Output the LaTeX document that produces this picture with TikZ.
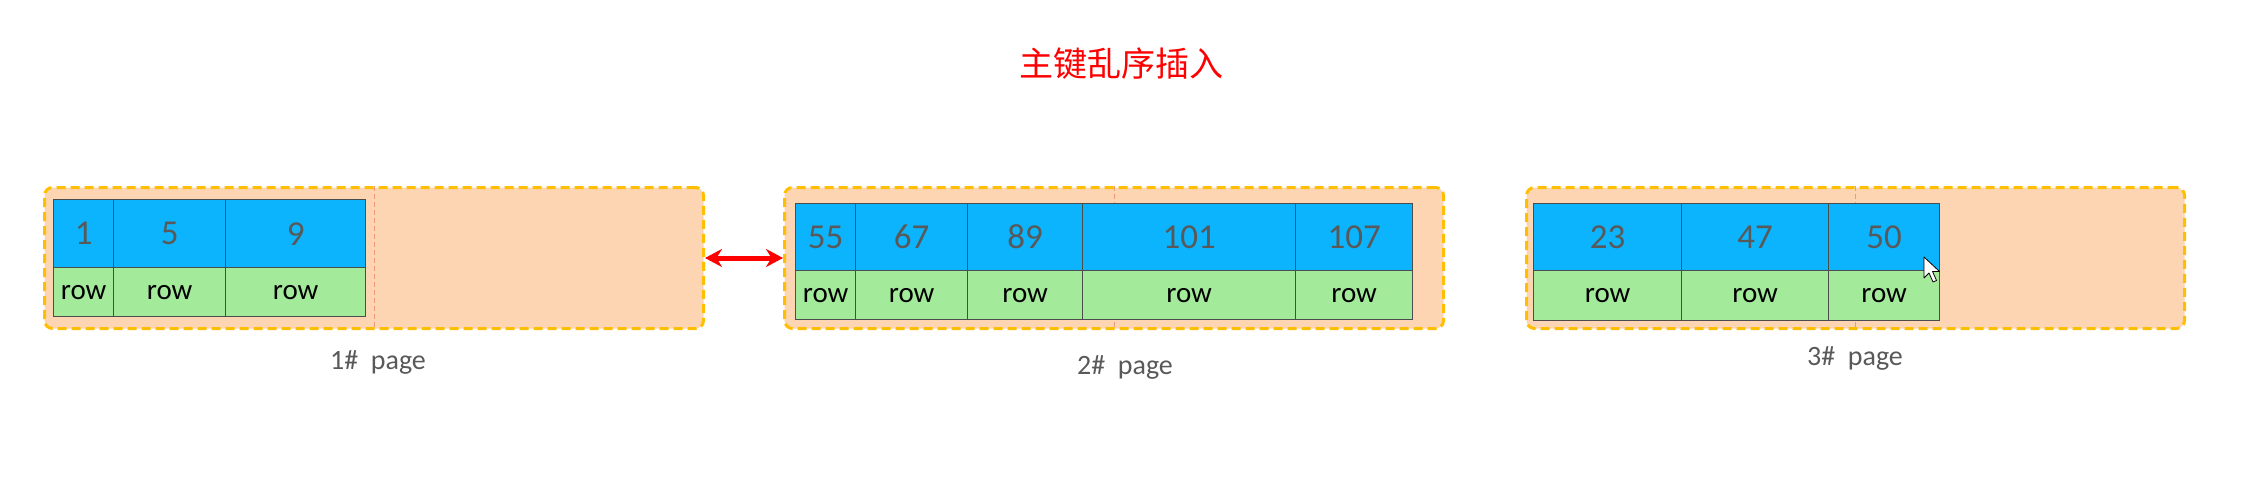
\documentclass[tikz,border=0pt]{standalone}
\usepackage{fontspec}
\setmainfont{Carlito}
\newfontfamily\cjk{Noto Sans CJK SC}
\usetikzlibrary{arrows.meta}

\definecolor{keyblue}{HTML}{0BB4FD}
\definecolor{rowgreen}{HTML}{A3EA9B}
\definecolor{pagefill}{HTML}{FDD5B2}
\definecolor{pageline}{HTML}{FFBF00}
\definecolor{midline}{HTML}{EE9A78}
\definecolor{numgray}{HTML}{595959}

\begin{document}
\begin{tikzpicture}[x=1pt,y=-1pt,
  pagebox/.style={draw=pageline,fill=pagefill,line width=3pt,dash pattern=on 9pt off 5pt,rounded corners=8pt,anchor=north west,inner sep=0pt},
  keycell/.style={draw=black!70,fill=keyblue,line width=1.3pt,anchor=north west,inner sep=0pt,text=numgray,font=\fontsize{35}{40}\selectfont},
  rowcell/.style={draw=black!70,fill=rowgreen,line width=1.3pt,anchor=north west,inner sep=0pt,text=black,font=\fontsize{29}{34}\selectfont},
  pagelabel/.style={text=numgray,font=\fontsize{28}{32}\selectfont},
  centerline/.style={draw=midline,line width=1pt,dash pattern=on 5pt off 3pt}]
  \useasboundingbox (0,0) rectangle (2262,484);

  \node[text=red,font=\cjk\fontsize{34}{40}\selectfont] (title) at (1121,64) {主键乱序插入};

  % pages
  \node[pagebox,minimum width=659pt,minimum height=141pt] (p1) at (43,186) {};
  \node[pagebox,minimum width=659pt,minimum height=141pt] (p2) at (783,186) {};
  \node[pagebox,minimum width=658pt,minimum height=141pt] (p3) at (1525,186) {};
  \draw[centerline] (p1.north) -- (p1.south);
  \draw[centerline] (p2.north) -- (p2.south);
  \draw[centerline] (p3.north) -- (p3.south);

  % 1# page
  \node[keycell,minimum width=60pt,minimum height=68pt] (k11) at (53,199) {1};
  \node[keycell,minimum width=112pt,minimum height=68pt] (k12) at (113,199) {5};
  \node[keycell,minimum width=140pt,minimum height=68pt] (k13) at (225,199) {9};
  \node[rowcell,minimum width=60pt,minimum height=49pt] (r11) at (53,267) {row};
  \node[rowcell,minimum width=112pt,minimum height=49pt] (r12) at (113,267) {row};
  \node[rowcell,minimum width=140pt,minimum height=49pt] (r13) at (225,267) {row};

  % 2# page
  \node[keycell,minimum width=60pt,minimum height=67pt] (k21) at (795,203) {55};
  \node[keycell,minimum width=112pt,minimum height=67pt] (k22) at (855,203) {67};
  \node[keycell,minimum width=115pt,minimum height=67pt] (k23) at (967,203) {89};
  \node[keycell,minimum width=213pt,minimum height=67pt] (k24) at (1082,203) {101};
  \node[keycell,minimum width=117pt,minimum height=67pt] (k25) at (1295,203) {107};
  \node[rowcell,minimum width=60pt,minimum height=49pt] (r21) at (795,270) {row};
  \node[rowcell,minimum width=112pt,minimum height=49pt] (r22) at (855,270) {row};
  \node[rowcell,minimum width=115pt,minimum height=49pt] (r23) at (967,270) {row};
  \node[rowcell,minimum width=213pt,minimum height=49pt] (r24) at (1082,270) {row};
  \node[rowcell,minimum width=117pt,minimum height=49pt] (r25) at (1295,270) {row};

  % 3# page
  \node[keycell,minimum width=148pt,minimum height=67pt] (k31) at (1533,203) {23};
  \node[keycell,minimum width=147pt,minimum height=67pt] (k32) at (1681,203) {47};
  \node[keycell,minimum width=111pt,minimum height=67pt] (k33) at (1828,203) {50};
  \node[rowcell,minimum width=148pt,minimum height=50pt] (r31) at (1533,270) {row};
  \node[rowcell,minimum width=147pt,minimum height=50pt] (r32) at (1681,270) {row};
  \node[rowcell,minimum width=111pt,minimum height=50pt] (r33) at (1828,270) {row};

  \node[pagelabel] (l1) at (378,362) {1\#\ \ page};
  \node[pagelabel] (l2) at (1125,367) {2\#\ \ page};
  \node[pagelabel] (l3) at (1855,358) {3\#\ \ page};

  \draw[red,line width=5pt,{Stealth[length=17pt,width=18pt]}-{Stealth[length=17pt,width=18pt]}] (p1.east) -- (p2.west);

  % mouse pointer
  \draw[fill=white,draw=black,line width=0.8pt,line join=round] (1924,257) -- ++(0,21) -- ++(5,-5) -- ++(4,9) -- ++(3.5,-1.5) -- ++(-4,-9) -- ++(7,0) -- cycle;
\end{tikzpicture}
\end{document}
